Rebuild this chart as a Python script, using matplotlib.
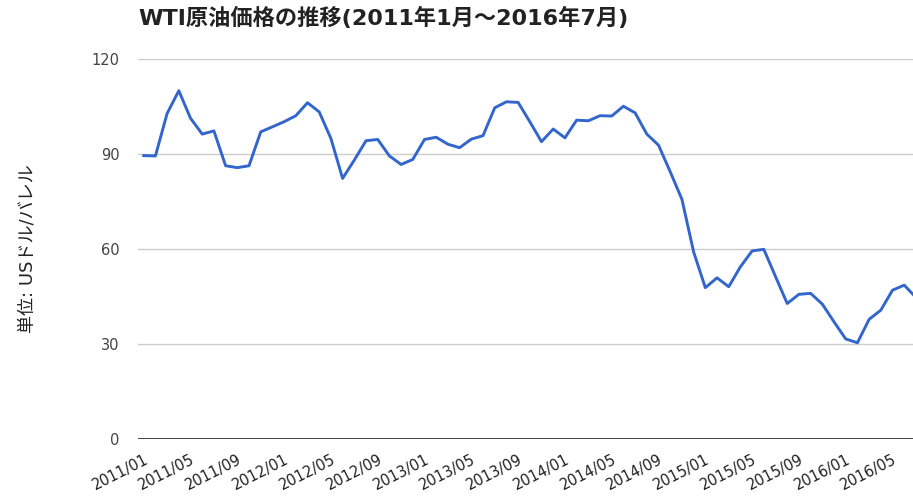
import matplotlib
matplotlib.use("Agg")
from matplotlib import pyplot as plt
import numpy as np

plt.rcParams['font.family'] = ['DejaVu Sans', 'Noto Sans CJK JP']

# monthly WTI averages, 2011/01 .. 2016/07 (USD/bbl)
prices = [
    89.5, 89.4, 102.8, 110.0, 101.3, 96.3, 97.3, 86.3, 85.7, 86.3, 97.0, 98.6,   # 2011
    100.2, 102.1, 106.2, 103.3, 94.9, 82.3, 88.1, 94.2, 94.6, 89.4, 86.7, 88.3,  # 2012
    94.6, 95.3, 93.1, 92.0, 94.7, 95.8, 104.6, 106.5, 106.3, 100.2, 93.9, 97.9,  # 2013
    95.1, 100.7, 100.5, 102.1, 102.0, 105.1, 103.0, 96.3, 92.8, 84.4, 75.7, 59.1,  # 2014
    47.8, 50.9, 48.1, 54.4, 59.4, 59.9, 51.3, 42.8, 45.7, 46.0, 42.6, 37.0,      # 2015
    31.6, 30.4, 37.8, 40.7, 47.0, 48.6, 44.7,                                     # 2016
]
months = ["%d/%02d" % (2011 + i // 12, i % 12 + 1) for i in range(len(prices))]
yticks = [0, 30, 60, 90, 120]
title = "WTI原油価格の推移(2011年1月～2016年7月)"
ylabel = "単位: USドル/バレル"

fig = plt.figure(figsize=(9.13, 4.99), dpi=100)
ax = fig.add_axes([0.151, 0.1202, 0.849, 0.7615])

x = np.arange(len(prices))
ax.plot(x, prices, color="#3366cc", lw=2.1, solid_joinstyle="round", zorder=3)

ax.set_ylim(0, 120)
ax.set_xlim(-0.5, 65.75)
ax.set_yticks(yticks)
ax.set_yticklabels([str(v) for v in yticks])
for v in yticks[1:]:
    ax.axhline(v, color="#cccccc", lw=1, zorder=1)
ax.axhline(0, color="#333333", lw=1.3, zorder=2)

tick_pos = x[::4]
ax.set_xticks(tick_pos)
ax.set_xticklabels([months[i] for i in tick_pos], rotation=27, ha="right",
                   rotation_mode="anchor", fontsize=10.5, color="#222222")
ax.tick_params(axis="x", length=0, pad=9)
ax.tick_params(axis="y", length=0, pad=13, labelsize=10.5, labelcolor="#444444")

for s in ax.spines.values():
    s.set_visible(False)

ax.set_ylabel(ylabel, fontsize=13, color="#222222", labelpad=40)
fig.text(0.151, 0.964, title, fontsize=16, fontweight="bold", color="#222222",
         ha="left", va="center")

fig.savefig("out.png", dpi=100)
